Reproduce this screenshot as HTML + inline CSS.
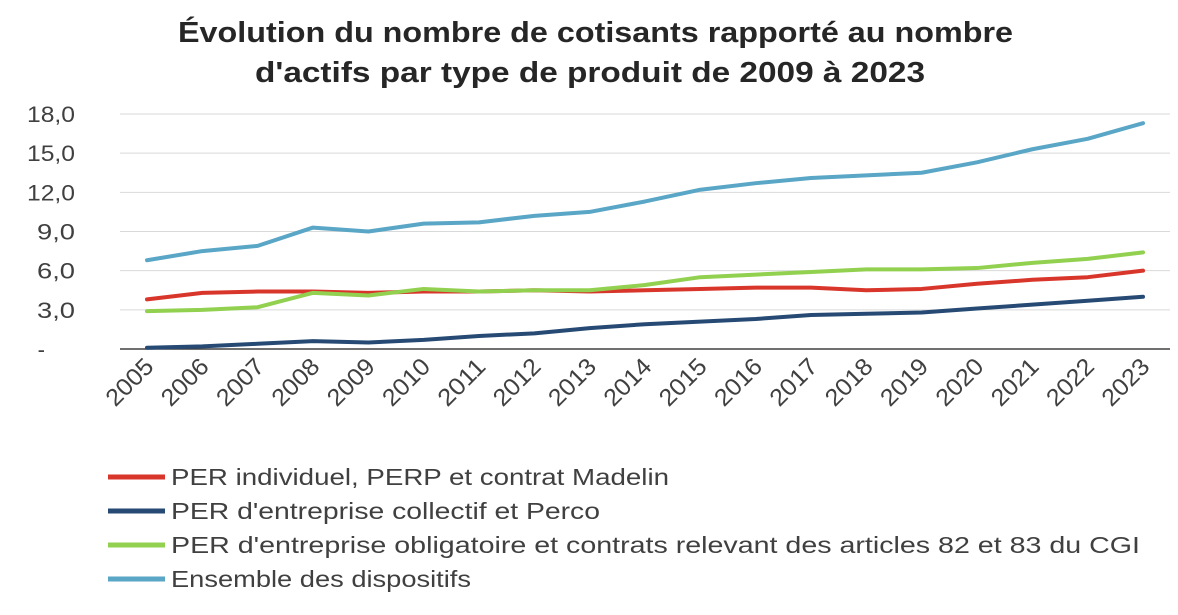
<!DOCTYPE html>
<html><head><meta charset="utf-8"><style>
body{margin:0;background:#fff;font-family:"Liberation Sans",sans-serif;}
svg text{font-family:"Liberation Sans",sans-serif;}
</style></head><body>
<svg id="c" width="1178" height="610">
<text x="178" y="42" textLength="835" lengthAdjust="spacingAndGlyphs" font-size="29" font-weight="bold" fill="#262626">Évolution du nombre de cotisants rapporté au nombre</text>
<text x="255" y="82" textLength="670" lengthAdjust="spacingAndGlyphs" font-size="29" font-weight="bold" fill="#262626">d'actifs par type de produit de 2009 à 2023</text>
<g id="grid"></g><g id="series"></g><g id="legend"></g>
</svg>
<script>
const years=[2005,2006,2007,2008,2009,2010,2011,2012,2013,2014,2015,2016,2017,2018,2019,2020,2021,2022,2023];
const yTicks=[0,3,6,9,12,15,18];
const yTickLabels=["-","3,0","6,0","9,0","12,0","15,0","18,0"];
const perIndividuel=[3.8,4.3,4.4,4.4,4.3,4.4,4.4,4.5,4.4,4.5,4.6,4.7,4.7,4.5,4.6,5.0,5.3,5.5,6.0];
const perCollectif=[0.1,0.2,0.4,0.6,0.5,0.7,1.0,1.2,1.6,1.9,2.1,2.3,2.6,2.7,2.8,3.1,3.4,3.7,4.0];
const perObligatoire=[2.9,3.0,3.2,4.3,4.1,4.6,4.4,4.5,4.5,4.9,5.5,5.7,5.9,6.1,6.1,6.2,6.6,6.9,7.4];
const ensemble=[6.8,7.5,7.9,9.3,9.0,9.6,9.7,10.2,10.5,11.3,12.2,12.7,13.1,13.3,13.5,14.3,15.3,16.1,17.3];
const seriesNames=["PER individuel, PERP et contrat Madelin","PER d'entreprise collectif et Perco","PER d'entreprise obligatoire et contrats relevant des articles 82 et 83 du CGI","Ensemble des dispositifs"];
const legendLens=[498,429,969,300];
const NS="http://www.w3.org/2000/svg";
const x0=147,x1=1143,yb=349,yt=114;
const X=i=>x0+(x1-x0)*i/(years.length-1);
const Y=v=>yb-(yb-yt)*v/18;
function mk(t,a,p){const e=document.createElementNS(NS,t);for(const k in a)e.setAttribute(k,a[k]);p.appendChild(e);return e;}
const g=document.getElementById('grid');
yTicks.forEach((v,i)=>{
  if(v>0){const l=mk('line',{x1:120,x2:1170,y1:Y(v),y2:Y(v),stroke:'#d9d9d9','stroke-width':1},g);
  
  }
  const a={x:v===0?45:75,y:Y(v)+8,'text-anchor':'end','font-size':22,fill:'#404040'};
  if(v>0){a.textLength=yTickLabels[i].length===4?48:38;a.lengthAdjust='spacingAndGlyphs';}
  const t=mk('text',a,g);
  t.textContent=yTickLabels[i];
  
  
});
const ax=mk('line',{x1:120,x2:1170,y1:yb,y2:yb,stroke:'#404040','stroke-width':1.5},g);


years.forEach((y,i)=>{
  const t=mk('text',{x:X(i)+8,y:368,'text-anchor':'end','font-size':24,textLength:56,lengthAdjust:'spacingAndGlyphs',fill:'#404040',transform:`rotate(-45 ${X(i)+8} 368)`},g);
  t.textContent=y;
  
  
});
const colors=['#d9362b','#264a73','#92d050','#5aa6c6'];
const data=[perIndividuel,perCollectif,perObligatoire,ensemble];
const keys=['series-per-individuel','series-per-collectif','series-per-obligatoire','series-ensemble'];
const s=document.getElementById('series');
data.forEach((d,k)=>{
  const p=mk('polyline',{points:d.map((v,i)=>X(i)+','+Y(v)).join(' '),fill:'none',stroke:colors[k],'stroke-width':4,'stroke-linejoin':'round','stroke-linecap':'round'},s);
  
  
});
const lg=document.getElementById('legend');
seriesNames.forEach((n,k)=>{
  const yy=477+k*34;
  const l=mk('line',{x1:108,x2:165,y1:yy,y2:yy,stroke:colors[k],'stroke-width':5},lg);
  
  
  const t=mk('text',{x:171,y:yy+8,'font-size':23,textLength:legendLens[k],lengthAdjust:'spacingAndGlyphs',fill:'#404040'},lg);
  t.textContent=n;
  
  
});
</script>
</body></html>
